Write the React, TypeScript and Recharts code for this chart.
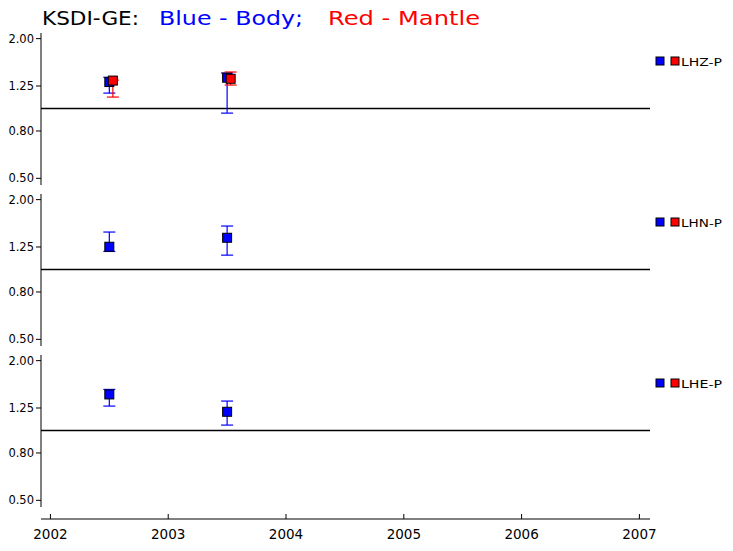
import { ScatterChart, Scatter, XAxis, YAxis, ErrorBar, ReferenceLine } from "recharts";

const FONT = "'DejaVu Sans', sans-serif";
const BLUE = "#0000ff";
const RED = "#ff0000";

// component labels, one per panel
const components = ["LHZ-P", "LHN-P", "LHE-P"];

const bodyYears = [2002.5, 2003.5];
const mantleYears = [2002.53, 2003.53];

// LHZ-P
const lhzBody = [1.3, 1.357];
const lhzBodyLo = [1.165, 0.955];
const lhzBodyHi = [1.363, 1.422];
const lhzMantle = [1.319, 1.343];
const lhzMantleLo = [1.12, 1.262];
const lhzMantleHi = [1.325, 1.436];

// LHN-P
const lhnBody = [1.253, 1.37];
const lhnBodyLo = [1.196, 1.153];
const lhnBodyHi = [1.45, 1.539];

// LHE-P
const lheBody = [1.43, 1.204];
const lheBodyLo = [1.274, 1.055];
const lheBodyHi = [1.503, 1.339];

const yTicks = [0.5, 0.8, 1.25, 2.0];
const xTicks = [2002, 2003, 2004, 2005, 2006, 2007];

const X_DOMAIN = [2001.92, 2007.09];
const Y_DOMAIN = [0.468, 2.115];

type Pt = { x: number; y: number; err: number[] };

// error bar offsets (below, above) taken from the low / high ends
const toPoints = (xs: number[], ys: number[], lo: number[], hi: number[]): Pt[] =>
  ys.map((y, i) => ({ x: xs[i], y, err: [y - lo[i], hi[i] - y] }));

const panels = [
  {
    label: components[0],
    body: toPoints(bodyYears, lhzBody, lhzBodyLo, lhzBodyHi),
    mantle: toPoints(mantleYears, lhzMantle, lhzMantleLo, lhzMantleHi),
  },
  { label: components[1], body: toPoints(bodyYears, lhnBody, lhnBodyLo, lhnBodyHi), mantle: [] as Pt[] },
  { label: components[2], body: toPoints(bodyYears, lheBody, lheBodyLo, lheBodyHi), mantle: [] as Pt[] },
];

const square = (fill: string) => (p: any) => (
  <rect x={p.cx - 4.5} y={p.cy - 4.5} width={9} height={9} fill={fill} stroke="#000" strokeWidth={1} />
);

const PANEL_TOP = 28;
const PANEL_STEP = 161;

function Panel({ top, body, mantle }: { top: number; body: Pt[]; mantle: Pt[] }) {
  return (
    <div style={{ position: "absolute", left: 0, top }}>
      <ScatterChart width={733} height={161} margin={{ top: 5, right: 83, bottom: 4, left: 0 }}>
        <XAxis type="number" dataKey="x" domain={X_DOMAIN} allowDataOverflow hide />
        <YAxis
          type="number"
          dataKey="y"
          scale="log"
          domain={Y_DOMAIN}
          allowDataOverflow
          ticks={yTicks}
          interval={0}
          width={41}
          tickSize={5}
          tickMargin={2}
          tickFormatter={(v: number) => v.toFixed(2)}
          axisLine={{ stroke: "#000" }}
          tickLine={{ stroke: "#000" }}
          tick={{ fill: "#000", fontSize: 11.5, fontFamily: FONT }}
        />
        <ReferenceLine y={1} stroke="#000" strokeWidth={1.3} />
        <Scatter data={body} fill={BLUE} shape={square(BLUE)} isAnimationActive={false}>
          <ErrorBar dataKey="err" direction="y" width={6} stroke={BLUE} strokeWidth={1.2} isAnimationActive={false} />
        </Scatter>
        {mantle.length > 0 && (
          <Scatter data={mantle} fill={RED} shape={square(RED)} isAnimationActive={false}>
            <ErrorBar dataKey="err" direction="y" width={6} stroke={RED} strokeWidth={1.2} isAnimationActive={false} />
          </Scatter>
        )}
      </ScatterChart>
    </div>
  );
}

export default function App() {
  return (
    <div style={{ position: "absolute", left: 0, top: 0, width: 733, height: 551, background: "#fff" }}>
      {panels.map((p, i) => (
        <Panel key={p.label} top={PANEL_TOP + i * PANEL_STEP} body={p.body} mantle={p.mantle} />
      ))}

      {/* shared time axis */}
      <div style={{ position: "absolute", left: 0, top: 500 }}>
        <ScatterChart width={733} height={51} margin={{ top: 0, right: 83, bottom: 0, left: 41 }}>
          <XAxis
            type="number"
            dataKey="x"
            domain={X_DOMAIN}
            allowDataOverflow
            ticks={xTicks}
            interval={0}
            height={32}
            tickSize={-5}
            tickMargin={15}
            axisLine={{ stroke: "#000" }}
            tickLine={{ stroke: "#000" }}
            tick={{ fill: "#000", fontSize: 13.5, fontFamily: FONT }}
          />
          <YAxis type="number" domain={[0, 1]} hide />
        </ScatterChart>
      </div>

      <svg width={733} height={551} style={{ position: "absolute", left: 0, top: 0, pointerEvents: "none" }}>
        <g fontFamily={FONT} fontSize={20}>
          <text x={42} y={25} fill="#000" textLength={97} lengthAdjust="spacingAndGlyphs">KSDI-GE:</text>
          <text x={159} y={25} fill={BLUE} textLength={144} lengthAdjust="spacingAndGlyphs">Blue - Body;</text>
          <text x={328} y={25} fill={RED} textLength={152} lengthAdjust="spacingAndGlyphs">Red - Mantle</text>
        </g>
        {panels.map((p, i) => {
          const dy = i * PANEL_STEP;
          return (
            <g key={p.label}>
              <rect x={656} y={57 + dy} width={8} height={8} fill={BLUE} stroke="#000" strokeWidth={1} />
              <rect x={671} y={57 + dy} width={8} height={8} fill={RED} stroke="#000" strokeWidth={1} />
              <text x={681} y={65.5 + dy} fontFamily={FONT} fontSize={11} fill="#000" textLength={41} lengthAdjust="spacingAndGlyphs">
                {p.label}
              </text>
            </g>
          );
        })}
      </svg>
    </div>
  );
}
